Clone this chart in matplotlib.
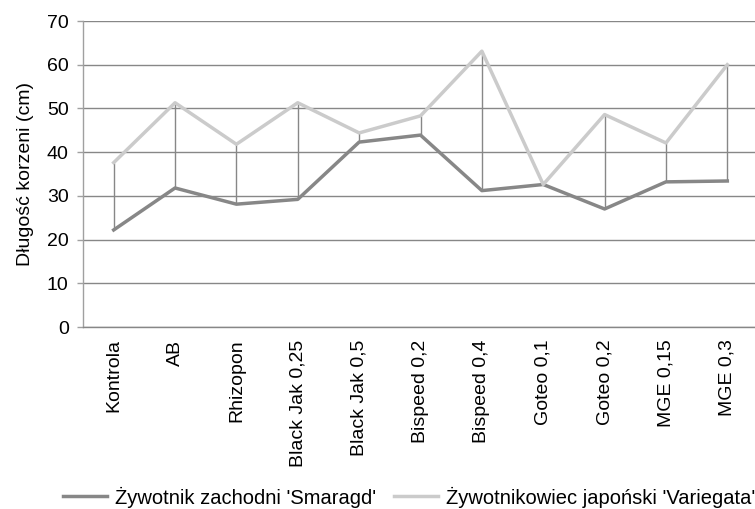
import numpy as np
import matplotlib.pyplot as plt

plt.rcParams['font.family'] = ['Liberation Sans', 'DejaVu Sans']
plt.rcParams['font.size'] = 14

categories = ['Kontrola', 'AB', 'Rhizopon', 'Black Jak 0,25', 'Black Jak 0,5',
              'Bispeed 0,2', 'Bispeed 0,4', 'Goteo 0,1', 'Goteo 0,2',
              'MGE 0,15', 'MGE 0,3']
smaragd = [22.2, 31.8, 28.1, 29.2, 42.3, 43.9, 31.2, 32.6, 27.0, 33.2, 33.4]
variegata = [37.6, 51.3, 41.8, 51.3, 44.4, 48.3, 63.1, 32.6, 48.6, 42.1, 60.0]
label_smaragd = "Żywotnik zachodni 'Smaragd'"
label_variegata = "Żywotnikowiec japoński 'Variegata'"

dark = '#878787'
light = '#cbcbcb'

fig = plt.figure(figsize=(7.55, 5.09), dpi=100)
ax = fig.add_axes([83 / 755, 1 - 327 / 509, 675 / 755, 306 / 509])

x = np.arange(len(categories))

# high-low lines between the two series
ax.vlines(x, np.minimum(smaragd, variegata), np.maximum(smaragd, variegata),
          color=dark, lw=1.0, zorder=2)
l1, = ax.plot(x, smaragd, color=dark, lw=2.5, zorder=3, label=label_smaragd)
l2, = ax.plot(x, variegata, color=light, lw=2.5, zorder=3, label=label_variegata)

ax.set_xlim(-0.5, len(categories) - 0.5)
ax.set_ylim(0, 70)
ax.set_yticks(range(0, 71, 10))
ax.yaxis.grid(True, color=dark, lw=1.0)
ax.set_axisbelow(True)
for s in ['top', 'right']:
    ax.spines[s].set_visible(False)
ax.spines['left'].set_color('#a0a0a0')
ax.spines['left'].set_linewidth(1.0)
ax.spines['bottom'].set_color(dark)
ax.spines['bottom'].set_linewidth(1.0)

ax.set_xticks(x)
ax.set_xticklabels(categories, rotation=90)
ax.tick_params(axis='x', length=0, pad=9)
ax.tick_params(axis='y', length=4.3, color='#a0a0a0', width=1.0, pad=6)
ax.set_ylabel('Długość korzeni (cm)', labelpad=9.5)

fig.legend(handles=[l1, l2], loc='center left',
           bbox_to_anchor=(63 / 755, 1 - 497 / 509),
           ncol=2, frameon=False, fontsize=14.5, handlelength=2.2,
           borderpad=0, borderaxespad=0, columnspacing=0.85,
           handletextpad=0.4)

fig.savefig('out.png', dpi=100)
